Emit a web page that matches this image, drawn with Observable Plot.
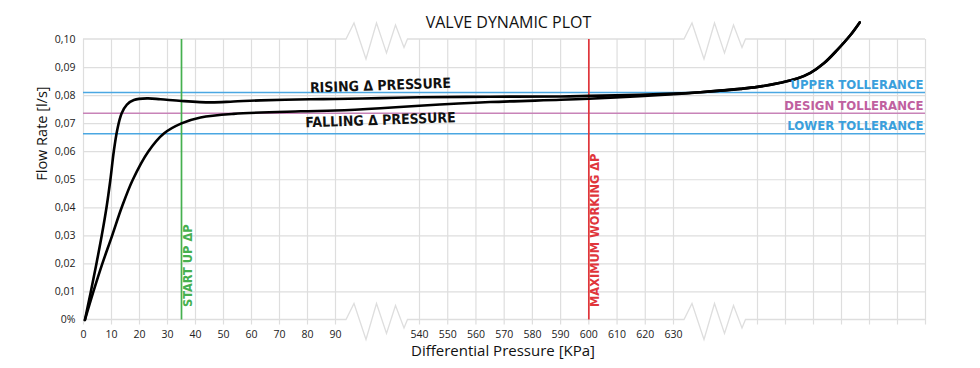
<!DOCTYPE html>
<html><head><meta charset="utf-8">
<script src="https://cdn.jsdelivr.net/npm/d3@7"></script>
<script src="https://cdn.jsdelivr.net/npm/@observablehq/plot@0.6"></script>
<style>body{margin:0;background:#fff} #chart svg{display:block}</style>
</head><body><div id="chart"></div>
<script>
// ---- data ----
const title = "VALVE DYNAMIC PLOT";
const xLabel = "Differential Pressure [KPa]";
const yLabel = "Flow Rate [l/s]";

// broken x axis: three visible segments, two gaps
const xBreakDomain = [0, 90, 540, 630, 900, 960];
const xTicksLeft = [0, 10, 20, 30, 40, 50, 60, 70, 80, 90];
const xTicksMid = [540, 550, 560, 570, 580, 590, 600, 610, 620, 630];
const xTicksRight = [900, 910, 920, 930, 940, 950, 960]; // unlabelled
const gapStarts = [90, 630];

const yTicks = [0, 0.01, 0.02, 0.03, 0.04, 0.05, 0.06, 0.07, 0.08, 0.09, 0.10];

const risingP = [0.5, 2.6, 4.6, 6.5, 8.2, 9.6, 10.8, 12.1, 13.6, 15.5, 18, 22.7, 27.5, 35, 45.4, 53.6, 63.2, 81, 90, 331, 540, 565, 590, 600, 618, 630, 716.8, 845, 900, 908.2, 914.2, 918.9, 923.7, 928.5, 933.2, 936.5];
const risingQ = [0, 0.01, 0.02, 0.03, 0.04, 0.05, 0.06, 0.068, 0.0736, 0.0768, 0.0784, 0.079, 0.0787, 0.0781, 0.0776, 0.0779, 0.0783, 0.0787, 0.0788, 0.0791, 0.0794, 0.0796, 0.0797, 0.0799, 0.0803, 0.0807, 0.0812, 0.0824, 0.0831, 0.0846, 0.0861, 0.0881, 0.0915, 0.0963, 0.1016, 0.1061];

const fallingP = [0.5, 3.5, 6.7, 10.2, 13.6, 17.6, 23.1, 28.7, 35, 41.8, 53.6, 77.5, 90, 331, 540, 565, 590, 600, 618, 630, 716.8, 845, 900, 908.2, 914.2, 918.9, 923.7, 928.5, 933.2, 936.5];
const fallingQ = [0, 0.01, 0.02, 0.03, 0.04, 0.05, 0.06, 0.0665, 0.0701, 0.0722, 0.0735, 0.0744, 0.0747, 0.0755, 0.0764, 0.0777, 0.0785, 0.0789, 0.0798, 0.0805, 0.0812, 0.0824, 0.0831, 0.0846, 0.0861, 0.0881, 0.0915, 0.0963, 0.1016, 0.1061];

const toleranceNames = ["UPPER TOLLERANCE", "DESIGN TOLLERANCE", "LOWER TOLLERANCE"];
const toleranceValues = [0.0811, 0.0737, 0.0664];

const markerNames = ["START UP ΔP", "MAXIMUM WORKING ΔP"];
const markerValues = [35, 600];

const curveLabels = ["RISING Δ PRESSURE", "FALLING Δ PRESSURE"];
const curveLabelAt = 331;

// ---- styles ----
const gridColor = "#dedede";
const toleranceColors = ["#4aa7e2", "#c883b8", "#4aa7e2"];
const toleranceTextColors = ["#3a9fdc", "#c0609f", "#3a9fdc"];
const markerColors = ["#45b04f", "#e0353b"];
const labelFont = "'DejaVu Sans Condensed', 'DejaVu Sans', sans-serif";
const labelWeight = "bold";

// ---- build tables ----
const rising = risingP.map((p, i) => ({p, q: risingQ[i]}));
const falling = fallingP.map((p, i) => ({p, q: fallingQ[i]}));
const tolerances = toleranceNames.map((name, i) => ({name, q: toleranceValues[i], line: toleranceColors[i], text: toleranceTextColors[i]}));
const markers = markerNames.map((name, i) => ({name, p: markerValues[i], color: markerColors[i]}));
const risingLabel = [{name: curveLabels[0], p: curveLabelAt, q: risingQ[risingP.indexOf(curveLabelAt)]}];
const fallingLabel = [{name: curveLabels[1], p: curveLabelAt, q: fallingQ[fallingP.indexOf(curveLabelAt)]}];
const xTicksAll = [...xTicksLeft, ...xTicksMid, ...xTicksRight];
const labelled = new Set([...xTicksLeft, ...xTicksMid]);

// zigzag glyph for the axis breaks (pixel offsets from the gap start)
const zigzag = [[11, 0], [19, -16], [31, 20], [41.5, -16], [51.5, 14], [60.5, -14], [69, 8.5], [72.5, 0]];

function breakBorders(index, scales) {
  const {x, y} = scales;
  const g = d3.create("svg:g");
  for (const q of [yTicks[0], yTicks[yTicks.length - 1]]) {
    const Y = y(q);
    const pts = [[x(xBreakDomain[0]), Y]];
    for (const a of gapStarts) {
      const x0 = x(a);
      for (const [ddx, ddy] of zigzag) pts.push([x0 + ddx, Y + ddy]);
    }
    pts.push([x(xBreakDomain[xBreakDomain.length - 1]), Y]);
    g.append("path").attr("d", d3.line()(pts)).attr("fill", "none")
      .attr("stroke", gridColor).attr("stroke-width", 1.3).attr("stroke-linejoin", "miter");
  }
  return g.node();
}

const fmtY = d => d === 0 ? "0%" : d.toFixed(2).replace(".", ",");

const chart = Plot.plot({
  width: 980,
  height: 368,
  marginLeft: 83,
  marginRight: 55,
  marginTop: 39,
  marginBottom: 48.5,
  style: {fontFamily: "'Open Sans', sans-serif", background: "#fff", color: "#222"},
  x: {type: "linear", domain: xBreakDomain, range: [83, 335, 419, 673, 757, 925]},
  y: {domain: [0, 0.1]},
  color: {type: "identity"},
  marks: [
    Plot.ruleY(yTicks.slice(1, -1), {stroke: gridColor, strokeWidth: 1.2}),
    Plot.ruleX(xTicksAll, {stroke: gridColor, strokeWidth: 1.2, insetBottom: -5}),
    breakBorders,
    Plot.axisY({ticks: yTicks, tickSize: 0, tickPadding: 8, tickFormat: fmtY, label: null, fontSize: 10.5, fill: "#222"}),
    Plot.axisX({ticks: xTicksAll, tickSize: 0, tickPadding: 11, tickFormat: d => labelled.has(d) ? String(d) : "", label: null, fontSize: 10.5, fill: "#222"}),
    Plot.ruleY(tolerances, {y: "q", stroke: "line", strokeWidth: 1.6}),
    Plot.ruleX(markers, {x: "p", stroke: "color", strokeWidth: 1.7}),
    Plot.line(rising, {x: "p", y: "q", stroke: "#000", strokeWidth: 2.6, curve: "catmull-rom"}),
    Plot.line(falling, {x: "p", y: "q", stroke: "#000", strokeWidth: 2.6, curve: "catmull-rom"}),
    Plot.text(tolerances, {y: "q", text: "name", frameAnchor: "right", textAnchor: "end", dx: -2, dy: -7.5, fill: "text", fontSize: 13, fontWeight: labelWeight, fontFamily: labelFont}),
    Plot.text(markers, {x: "p", text: "name", frameAnchor: "bottom", rotate: -90, textAnchor: "start", dx: 10, dy: -13, fill: "color", fontSize: 12.7, fontWeight: labelWeight, fontFamily: labelFont}),
    Plot.text(risingLabel, {x: "p", y: "q", text: "name", dy: -12.5, rotate: -2, fill: "#111", fontSize: 14, fontWeight: labelWeight, fontFamily: labelFont}),
    Plot.text(fallingLabel, {x: "p", y: "q", text: "name", dy: 12, rotate: -2, fill: "#111", fontSize: 14, fontWeight: labelWeight, fontFamily: labelFont}),
    Plot.text([title], {text: d => d, frameAnchor: "top", dx: 4, dy: -23, fontSize: 16, fill: "#111"}),
    Plot.text([xLabel], {text: d => d, frameAnchor: "bottom", dx: -1.5, dy: 36, fontSize: 15, fill: "#111"}),
    Plot.text([yLabel], {text: d => d, frameAnchor: "left", rotate: -90, dx: -41, dy: 1, fontSize: 14.5, fill: "#111"})
  ]
});
document.getElementById("chart").append(chart);
</script>
</body></html>
